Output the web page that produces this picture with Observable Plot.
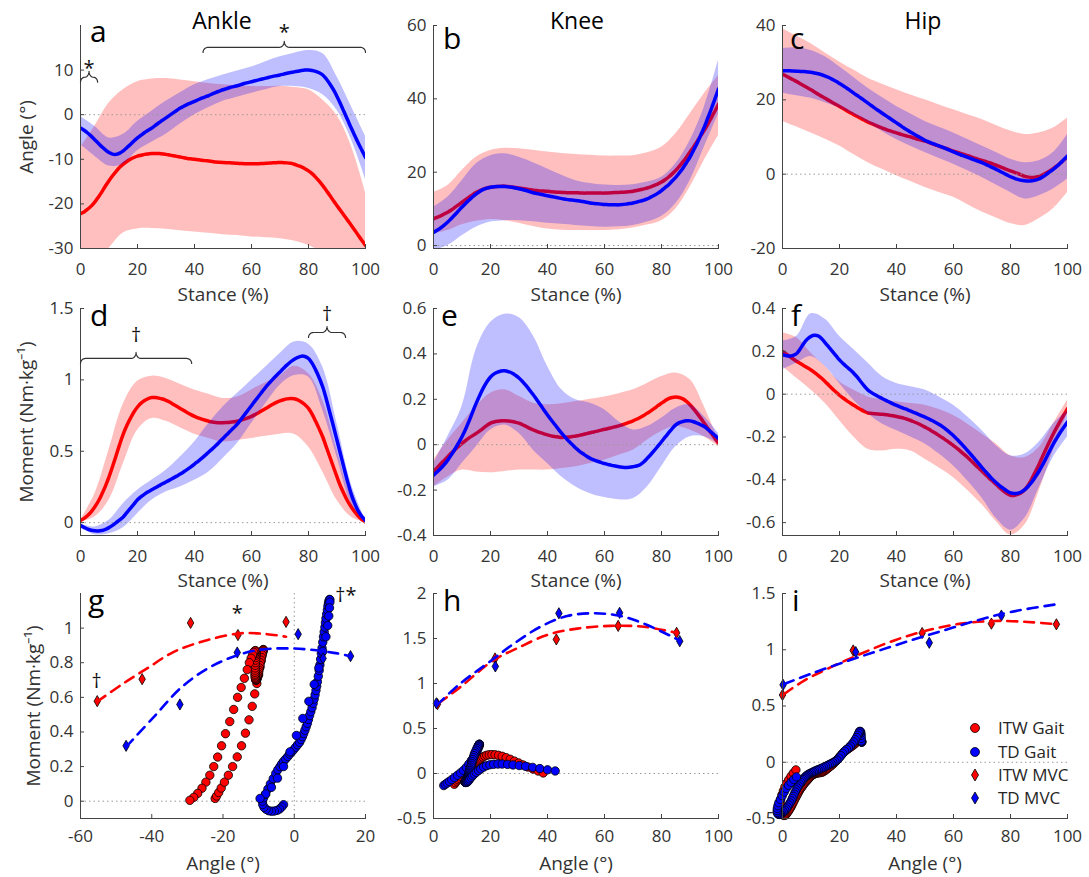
<!DOCTYPE html>
<html><head><meta charset="utf-8">
<script src="https://cdn.jsdelivr.net/npm/d3@7"></script>
<script src="https://cdn.jsdelivr.net/npm/@observablehq/plot@0.6"></script>
<style>
body{margin:0;background:#fff;}
#fig{position:relative;width:1089px;height:877px;font-family:"Open Sans",sans-serif;overflow:hidden;background:#fff;}
.txt{position:absolute;white-space:nowrap;line-height:1;}
</style></head><body><div id="fig"></div>
<script>
// ---------------- DATA ----------------
const stance = [0,1.25,2.5,3.75,5,6.25,7.5,8.75,10,11.25,12.5,13.75,15,16.25,17.5,18.75,20,21.25,22.5,23.75,25,26.25,27.5,28.75,30,31.25,32.5,33.75,35,36.25,37.5,38.75,40,41.25,42.5,43.75,45,46.25,47.5,48.75,50,51.25,52.5,53.75,55,56.25,57.5,58.75,60,61.25,62.5,63.75,65,66.25,67.5,68.75,70,71.25,72.5,73.75,75,76.25,77.5,78.75,80,81.25,82.5,83.75,85,86.25,87.5,88.75,90,91.25,92.5,93.75,95,96.25,97.5,98.75,100];
const stanceBand = [0,5,10,15,20,25,30,35,40,45,50,55,60,65,70,75,80,85,90,95,100];

// Ankle angle (deg)
const ankleAngleITW = [-22.2,-21.8,-21.2,-20.5,-19.6,-18.5,-17.3,-16.0,-14.8,-13.7,-12.7,-11.8,-11.1,-10.5,-10,-9.6,-9.3,-9.1,-8.9,-8.8,-8.7,-8.7,-8.7,-8.8,-8.9,-9.05,-9.2,-9.35,-9.5,-9.65,-9.8,-9.9,-10,-10.1,-10.2,-10.3,-10.4,-10.5,-10.6,-10.65,-10.7,-10.75,-10.8,-10.85,-10.9,-10.95,-11,-11,-11,-11,-11,-10.95,-10.9,-10.85,-10.8,-10.75,-10.7,-10.75,-10.8,-10.9,-11.1,-11.4,-11.7,-12.1,-12.6,-13.2,-14,-14.9,-15.9,-17,-18.1,-19.3,-20.4,-21.5,-22.6,-23.7,-24.8,-25.9,-27.1,-28.2,-29.3];
const ankleAngleTD = [-3,-3.5,-4.1,-4.8,-5.6,-6.4,-7.2,-7.9,-8.5,-8.85,-8.9,-8.6,-8.1,-7.4,-6.7,-5.9,-5.2,-4.6,-4,-3.5,-3,-2.4,-1.8,-1.25,-0.7,-0.15,0.4,0.95,1.5,1.9,2.3,2.65,3,3.35,3.7,4,4.3,4.65,5,5.3,5.6,5.85,6.1,6.3,6.5,6.75,7,7.2,7.4,7.6,7.8,8,8.2,8.4,8.6,8.75,8.9,9.1,9.3,9.45,9.6,9.75,9.9,10,10,9.9,9.7,9.4,8.9,8.0,6.9,5.6,4.1,2.4,0.6,-1.2,-3,-4.7,-6.4,-8,-9.6];
const ankleAngleITWHi = [-7.4,-2.6,2.6,5.6,7.4,8,8.1,7.8,7.4,7,6.7,6.5,6.3,6.3,6.4,6.1,5.6,3.3,-0.2,-7,-17.4];
const ankleAngleITWLo = [-38,-34,-30,-26.5,-25.6,-25.5,-25.7,-26,-26.3,-26.6,-26.9,-27.1,-27.4,-27.6,-27.8,-28.3,-29.3,-31,-34,-38,-42];
const ankleAngleTDHi = [-0.4,-2.6,-5.2,-4.4,-1.5,0.8,3,4.9,6.7,7.9,8.9,9.8,10.7,11.9,13,13.8,14.4,13.7,8.5,1.9,-4.8];
const ankleAngleTDLo = [-6.7,-9.3,-11.5,-11.1,-8.1,-6.2,-4.4,-2.1,0,1.6,3,3.9,4.8,5.6,6.3,6.3,5.9,4.5,1,-5.5,-14.4];

// Knee angle (deg)
const kneeAngleITW = [7.3,7.7,8.1,8.6,9.1,9.7,10.4,11.1,11.8,12.5,13.2,13.9,14.5,15,15.4,15.7,15.9,16,16.1,16.2,16.2,16.1,16,15.85,15.7,15.55,15.4,15.25,15.1,15,14.9,14.85,14.8,14.7,14.6,14.55,14.5,14.45,14.4,14.4,14.4,14.35,14.3,14.3,14.3,14.3,14.3,14.3,14.3,14.35,14.4,14.45,14.5,14.55,14.6,14.7,14.8,15,15.2,15.45,15.7,16,16.4,16.8,17.3,17.95,18.7,19.55,20.5,21.6,22.8,24.1,25.5,26.9,28.4,29.9,31.4,33.1,34.9,36.7,38.5];
const kneeAngleTD = [3.6,4.15,4.8,5.55,6.4,7.4,8.4,9.45,10.5,11.5,12.4,13.3,14.1,14.75,15.3,15.65,15.9,16.05,16.1,16.1,16.1,16,15.9,15.7,15.5,15.25,15,14.7,14.4,14.2,14,13.8,13.6,13.4,13.2,13,12.8,12.65,12.5,12.4,12.3,12.15,12,11.8,11.6,11.5,11.4,11.3,11.2,11.15,11.1,11.1,11.1,11.2,11.3,11.45,11.6,11.85,12.1,12.4,12.7,13.2,13.7,14.3,15,15.8,16.6,17.6,18.6,19.8,21.1,22.6,24.1,26,27.9,30.1,32.3,34.8,37.3,40,42.7];
const kneeAngleITWHi = [14.5,16.4,20.5,24.1,25.9,26.5,26.4,26,25.5,25.1,24.8,24.6,24.4,24.4,24.5,25.3,26.8,30.5,35.9,41.4,46.4];
const kneeAngleITWLo = [3.2,4.1,5.7,6.6,7.1,6.8,6.1,5.2,4.5,4.2,4.1,4.1,4.1,4.3,4.8,5.6,6.8,10,15.9,23.2,30];
const kneeAngleTDHi = [10.5,13.2,17.7,22.3,24.5,25,24.1,22.6,20.9,19.2,17.7,16.9,16.5,16.4,16.6,17.3,18.6,22.3,28.6,37.7,50.5];
const kneeAngleTDLo = [-1.4,0,2.7,5,6.4,6.8,6.8,6.5,6.1,5.8,5.5,5.2,5,5.1,5.5,6.4,7.9,11.4,17.7,26.8,35.9];

// Hip angle (deg)
const hipAngleITW = [26.9,26.4,25.9,25.4,24.9,24.35,23.8,23.25,22.7,22.1,21.5,20.95,20.4,19.85,19.3,18.75,18.2,17.65,17.1,16.55,16,15.5,15,14.5,14,13.6,13.2,12.8,12.4,12.05,11.7,11.4,11.1,10.8,10.5,10.25,10,9.7,9.4,9.15,8.9,8.55,8.2,7.85,7.5,7.2,6.9,6.55,6.2,5.9,5.6,5.3,5,4.65,4.3,4,3.7,3.4,3.1,2.75,2.4,2,1.6,1.25,0.9,0.55,0.2,-0.2,-0.6,-0.8,-0.9,-0.8,-0.6,-0.2,0.3,0.85,1.5,2.2,3,3.8,4.7];
const hipAngleTD = [27.8,27.8,27.8,27.75,27.7,27.65,27.6,27.5,27.4,27.2,27,26.75,26.4,26,25.5,25,24.4,23.8,23.2,22.5,21.8,21.15,20.5,19.8,19.1,18.4,17.7,17.05,16.4,15.75,15.1,14.45,13.8,13.15,12.5,11.9,11.3,10.75,10.2,9.65,9.1,8.7,8.3,7.95,7.6,7.2,6.8,6.4,6,5.6,5.2,4.85,4.5,4.15,3.8,3.45,3.1,2.65,2.2,1.75,1.3,0.8,0.3,-0.2,-0.7,-1.05,-1.4,-1.65,-1.8,-1.85,-1.8,-1.6,-1.3,-0.75,-0.1,0.6,1.3,2.1,3,3.95,4.9];
const hipAngleITWHi = [39.1,37.1,35.1,32.6,30.2,28,25.8,24.2,22.7,21.3,20,18.6,17.3,16,14.7,13.1,11.6,10.7,11.1,12.4,15.1];
const hipAngleITWLo = [14.2,12.7,11.1,9.4,7.6,5.3,3.1,1.3,-0.4,-2,-3.6,-4.9,-6.2,-8.2,-10.2,-11.8,-13.3,-13.8,-12,-9.3,-4.9];
const hipAngleTDHi = [33.8,34,33.3,31.6,28.9,26,23.1,20.6,18.2,16.2,14.2,12.6,11.1,9.3,7.6,5.8,4,3.1,3.6,5.8,10.7];
const hipAngleTDLo = [21.8,21.1,20.4,19.2,17.8,15.9,13.8,11.5,9.3,7.5,5.8,4.2,2.7,0.9,-0.9,-2.9,-4.9,-6.7,-5.8,-4,-1.3];

// Ankle moment (Nm/kg)
const ankleMomentITW = [0.016,0.03,0.05,0.076,0.11,0.15,0.2,0.256,0.32,0.393,0.47,0.548,0.62,0.68,0.73,0.775,0.81,0.837,0.855,0.868,0.876,0.876,0.872,0.866,0.857,0.845,0.83,0.815,0.8,0.785,0.77,0.757,0.745,0.734,0.725,0.717,0.71,0.705,0.702,0.7,0.7,0.701,0.703,0.706,0.71,0.717,0.725,0.734,0.745,0.757,0.77,0.785,0.8,0.815,0.83,0.843,0.853,0.861,0.867,0.87,0.868,0.86,0.845,0.826,0.8,0.76,0.71,0.657,0.6,0.53,0.46,0.39,0.32,0.255,0.2,0.15,0.11,0.075,0.045,0.022,0.005];
const ankleMomentTD = [-0.02,-0.033,-0.045,-0.053,-0.057,-0.058,-0.055,-0.047,-0.035,-0.019,0,0.019,0.04,0.07,0.1,0.13,0.16,0.182,0.2,0.216,0.23,0.244,0.258,0.272,0.285,0.298,0.312,0.326,0.34,0.356,0.373,0.391,0.41,0.43,0.45,0.472,0.495,0.517,0.54,0.565,0.59,0.615,0.64,0.664,0.69,0.722,0.755,0.787,0.82,0.853,0.885,0.918,0.95,0.978,1.005,1.031,1.056,1.081,1.105,1.127,1.145,1.158,1.166,1.164,1.15,1.117,1.07,1.015,0.95,0.865,0.77,0.675,0.577,0.478,0.38,0.285,0.2,0.133,0.08,0.042,0.016];
const ankleMomentITWHi = [0.016,0.2,0.51,0.83,0.99,1.026,1.01,0.97,0.93,0.9,0.87,0.88,0.93,0.98,1.03,1.096,1.044,0.857,0.51,0.18,0.005];
const ankleMomentITWLo = [0.005,0.04,0.157,0.41,0.647,0.73,0.71,0.665,0.62,0.59,0.565,0.575,0.59,0.605,0.62,0.62,0.53,0.355,0.157,0.04,0];
const ankleMomentTDHi = [-0.007,-0.03,0.016,0.133,0.227,0.297,0.367,0.46,0.565,0.694,0.81,0.904,0.998,1.09,1.185,1.266,1.25,1.09,0.694,0.27,0.016];
const ankleMomentTDLo = [-0.035,-0.084,-0.077,-0.035,0.063,0.157,0.215,0.25,0.297,0.355,0.45,0.554,0.694,0.834,0.963,1.03,1.021,0.787,0.46,0.133,0];

// Knee moment (Nm/kg)
const kneeMomentITW = [-0.12,-0.102,-0.085,-0.069,-0.053,-0.037,-0.022,-0.008,0.006,0.018,0.03,0.04,0.05,0.061,0.073,0.085,0.095,0.1,0.103,0.105,0.105,0.104,0.102,0.099,0.095,0.088,0.08,0.072,0.065,0.059,0.053,0.048,0.043,0.039,0.036,0.034,0.032,0.033,0.034,0.036,0.038,0.041,0.045,0.049,0.053,0.056,0.06,0.064,0.068,0.071,0.075,0.079,0.083,0.088,0.093,0.099,0.105,0.112,0.12,0.129,0.139,0.149,0.16,0.172,0.183,0.194,0.203,0.208,0.21,0.208,0.202,0.191,0.176,0.158,0.138,0.117,0.095,0.072,0.05,0.028,0.006];
const kneeMomentTD = [-0.134,-0.12,-0.105,-0.088,-0.068,-0.045,-0.02,0.007,0.035,0.068,0.105,0.145,0.183,0.218,0.25,0.277,0.298,0.312,0.32,0.325,0.326,0.322,0.316,0.306,0.294,0.278,0.26,0.24,0.22,0.198,0.176,0.153,0.131,0.11,0.09,0.07,0.05,0.032,0.015,0,-0.016,-0.029,-0.04,-0.051,-0.06,-0.067,-0.073,-0.078,-0.083,-0.087,-0.091,-0.094,-0.097,-0.099,-0.1,-0.099,-0.097,-0.094,-0.088,-0.076,-0.06,-0.043,-0.025,-0.006,0.013,0.033,0.052,0.071,0.087,0.097,0.102,0.105,0.105,0.101,0.095,0.088,0.08,0.068,0.055,0.041,0.028];
const kneeMomentITWHi = [-0.068,0.02,0.095,0.168,0.227,0.242,0.213,0.183,0.176,0.18,0.19,0.2,0.21,0.225,0.242,0.27,0.3,0.316,0.287,0.168,0.02];
const kneeMomentITWLo = [-0.186,-0.142,-0.112,-0.12,-0.124,-0.118,-0.112,-0.112,-0.112,-0.105,-0.097,-0.083,-0.068,-0.046,-0.024,0.02,0.058,0.08,0.065,0.035,-0.009];
const kneeMomentTDHi = [-0.083,0.035,0.168,0.42,0.538,0.575,0.56,0.48,0.346,0.242,0.198,0.183,0.154,0.102,0.065,0.08,0.117,0.161,0.176,0.124,0.05];
const kneeMomentTDLo = [-0.186,-0.157,-0.083,-0.009,0.065,0.087,0.05,-0.024,-0.083,-0.142,-0.186,-0.216,-0.233,-0.242,-0.238,-0.186,-0.097,-0.009,0.035,0.035,0.003];

// Hip moment (Nm/kg)
const hipMomentITW = [0.2,0.188,0.176,0.164,0.153,0.143,0.133,0.123,0.113,0.101,0.088,0.074,0.058,0.042,0.025,0.01,-0.005,-0.018,-0.03,-0.041,-0.052,-0.062,-0.072,-0.081,-0.088,-0.09,-0.092,-0.093,-0.094,-0.096,-0.098,-0.101,-0.104,-0.108,-0.112,-0.117,-0.123,-0.13,-0.137,-0.145,-0.154,-0.163,-0.173,-0.183,-0.194,-0.205,-0.216,-0.228,-0.24,-0.253,-0.267,-0.281,-0.296,-0.312,-0.328,-0.344,-0.36,-0.376,-0.392,-0.407,-0.422,-0.438,-0.452,-0.464,-0.472,-0.473,-0.468,-0.46,-0.446,-0.424,-0.395,-0.362,-0.328,-0.291,-0.255,-0.22,-0.186,-0.155,-0.125,-0.096,-0.068];
const hipMomentTD = [0.184,0.18,0.178,0.181,0.19,0.212,0.238,0.258,0.27,0.275,0.272,0.259,0.24,0.22,0.2,0.18,0.16,0.143,0.128,0.114,0.098,0.079,0.058,0.037,0.019,0.007,-0.003,-0.012,-0.02,-0.029,-0.037,-0.045,-0.052,-0.059,-0.066,-0.072,-0.079,-0.086,-0.093,-0.1,-0.107,-0.115,-0.123,-0.132,-0.142,-0.153,-0.166,-0.18,-0.194,-0.211,-0.228,-0.246,-0.265,-0.284,-0.303,-0.323,-0.343,-0.362,-0.38,-0.398,-0.414,-0.428,-0.44,-0.452,-0.461,-0.464,-0.463,-0.457,-0.446,-0.43,-0.41,-0.386,-0.36,-0.33,-0.298,-0.265,-0.233,-0.205,-0.178,-0.153,-0.13];
const hipMomentITWHi = [0.287,0.263,0.192,0.129,0.058,0.019,-0.013,-0.026,-0.036,-0.044,-0.052,-0.072,-0.1,-0.14,-0.186,-0.233,-0.288,-0.296,-0.249,-0.139,-0.028];
const hipMomentITWLo = [0.129,0.074,0.019,-0.044,-0.123,-0.2,-0.257,-0.265,-0.257,-0.265,-0.304,-0.345,-0.39,-0.45,-0.516,-0.595,-0.658,-0.611,-0.454,-0.265,-0.091];
const hipMomentTDHi = [0.247,0.27,0.375,0.35,0.27,0.208,0.145,0.082,0.05,0.035,0.019,-0.013,-0.052,-0.107,-0.17,-0.241,-0.288,-0.28,-0.225,-0.139,-0.076];
const hipMomentTDLo = [0.113,0.145,0.176,0.129,0.05,-0.028,-0.091,-0.139,-0.17,-0.2,-0.233,-0.28,-0.335,-0.406,-0.485,-0.58,-0.635,-0.58,-0.438,-0.296,-0.2];

// MVC diamonds (angle, moment) and fitted curves
const ankleMvcITWAngle = [-55.3,-42.7,-29.1,-15.8,-2.3];
const ankleMvcITWMoment = [0.578,0.705,1.03,0.96,1.036];
const ankleMvcTDAngle = [-47.2,-32.1,-16,1.1,8.1,15.8];
const ankleMvcTDMoment = [0.32,0.559,0.859,0.965,0.825,0.838];
const ankleFitITWAngle = [-55.3,-48,-41.3,-33.8,-24.5,-15.1,-7.6,-2.3];
const ankleFitITWMoment = [0.575,0.68,0.767,0.863,0.93,0.97,0.965,0.95];
const ankleFitTDAngle = [-47.2,-39.4,-31.5,-22.6,-11.4,-0.1,11.1,15.8];
const ankleFitTDMoment = [0.314,0.487,0.661,0.786,0.869,0.882,0.857,0.838];

const kneeMvcITWAngle = [1.4,21.6,43.1,64.8,85.3];
const kneeMvcITWMoment = [0.77,1.278,1.49,1.64,1.563];
const kneeMvcTDAngle = [1.0,21.7,44,65.3,86.4];
const kneeMvcTDMoment = [0.78,1.19,1.78,1.785,1.47];
const kneeFitITWAngle = [1.8,9.4,21.1,29.3,39.9,50.4,62.1,73.9,85.6];
const kneeFitITWMoment = [0.78,0.96,1.26,1.39,1.54,1.61,1.64,1.63,1.56];
const kneeFitTDAngle = [1.2,9.4,18.8,28.1,37.5,46.9,56.3,65.7,75,86.2];
const kneeFitTDMoment = [0.76,1.0,1.22,1.44,1.63,1.75,1.78,1.75,1.65,1.48];

const hipMvcITWAngle = [0,24.8,49,73.3,96.1];
const hipMvcITWMoment = [0.598,0.994,1.149,1.232,1.226];
const hipMvcTDAngle = [0.2,25.7,51.5,76.8];
const hipMvcTDMoment = [0.688,0.979,1.062,1.304];
const hipFitITWAngle = [0.6,7.6,17,27.5,39.2,50.9,62.6,74.3,86,96.5];
const hipFitITWMoment = [0.607,0.726,0.845,0.964,1.083,1.173,1.232,1.256,1.247,1.226];
const hipFitTDAngle = [0.6,9.9,21.6,33.3,45,56.7,68.4,80.1,97.7];
const hipFitTDMoment = [0.696,0.786,0.89,0.988,1.083,1.173,1.262,1.336,1.41];

// Significance annotations
const ankleAngleBraces = [{x1:0,x2:6,y:8.4},{x1:43,x2:100,y:15.1}];
const ankleAngleMarks = [{x:3,y:10.4,t:"*"},{x:71.5,y:18.4,t:"*"}];
const ankleMomentBraces = [{x1:0,x2:39,y:1.15},{x1:80,x2:93,y:1.332}];
const ankleMomentMarks = [{x:19.5,y:1.31,t:"†"},{x:86.5,y:1.46,t:"†"}];
const ankleRelMarks = [{x:-55.5,y:0.69,t:"†"},{x:-16,y:1.085,t:"*"},{x:14.5,y:1.19,t:"†*"}];

// Ticks and labels
const stanceTicks = [0,20,40,60,80,100];
const angleTicksG = [-60,-40,-20,0,20];
const angleTicks = [0,20,40,60,80,100];
const yTicksA = [-30,-20,-10,0,10], yTicksB = [0,20,40,60], yTicksC = [-20,0,20,40];
const yTicksD = [0,0.5,1,1.5], yTicksE = [-0.4,-0.2,0,0.2,0.4,0.6], yTicksF = [-0.6,-0.4,-0.2,0,0.2,0.4];
const yTicksG = [0,0.2,0.4,0.6,0.8,1], yTicksH = [-0.5,0,0.5,1,1.5,2], yTicksI = [-0.5,0,0.5,1,1.5];
const joints = ["Ankle","Knee","Hip"];
const letters = ["a","b","c","d","e","f","g","h","i"];
const legendLabels = ["ITW Gait","TD Gait","ITW MVC","TD MVC"];

// ---------------- LAYOUT ----------------
const fig = document.getElementById("fig");
const COLS = [{L:80,R:365},{L:433,R:718},{L:782,R:1067}];
const ROWS = [{T:25,B:248},{T:308,B:535},{T:593,B:818}];
const ML = 70, MR = 20, MT = 12, MB = 64;
const RED = "#ff0000", BLUE = "#0000ff";
const fmt = d => String(d);

function makePanel(col, row, o) {
  const c = COLS[col], r = ROWS[row];
  const svg = Plot.plot({
    width: c.R - c.L + ML + MR, height: r.B - r.T + MT + MB,
    marginLeft: ML, marginRight: MR, marginTop: MT, marginBottom: MB,
    style: {background: "transparent", fontFamily: "'Open Sans', sans-serif", fontSize: "17px", color: "#333", overflow: "visible"},
    x: {domain: o.xDomain}, y: {domain: o.yDomain},
    marks: [
      ...o.marks,
      Plot.frame({anchor: "left", stroke: "#444"}),
      Plot.frame({anchor: "bottom", stroke: "#444"}),
      Plot.axisX(o.xTicks, {tickSize: -4, tickPadding: o.xTickPadding ?? 18, tickFormat: fmt, fontSize: 17, stroke: "#444",
        label: o.xLabel, labelAnchor: "center", labelOffset: o.xLabelOffset, labelArrow: "none"}),
      Plot.axisY(o.yTicks, {tickSize: -4, tickPadding: 11, tickFormat: fmt, fontSize: 17, stroke: "#444",
        label: o.yLabel ?? null, labelAnchor: "center", labelOffset: o.yLabelOffset, labelArrow: "none"}),
      ...(o.top || [])
    ]
  });
  // axis titles slightly larger than tick labels
  svg.querySelectorAll('[aria-label="x-axis label"], [aria-label="y-axis label"]').forEach(g => g.setAttribute("font-size", 19));
  const wrap = document.createElement("div");
  wrap.style.cssText = `position:absolute;left:${c.L - ML}px;top:${r.T - MT}px;`;
  wrap.appendChild(svg);
  fig.appendChild(wrap);
}

const zeroY = Plot.ruleY([0], {stroke: "#999", strokeDasharray: "1.5,3", strokeWidth: 1});

function stanceMarks(itwM, itwLo, itwHi, tdM, tdLo, tdHi) {
  const band = (lo, hi) => stanceBand.map((s, i) => ({s, lo: lo[i], hi: hi[i]}));
  const mean = v => stance.map((s, i) => ({s, v: v[i]}));
  return [
    Plot.areaY(band(itwLo, itwHi), {x: "s", y1: "lo", y2: "hi", fill: RED, fillOpacity: 0.25, curve: "catmull-rom", clip: true}),
    Plot.line(mean(itwM), {x: "s", y: "v", stroke: RED, strokeWidth: 3.5, curve: "catmull-rom", clip: true}),
    Plot.areaY(band(tdLo, tdHi), {x: "s", y1: "lo", y2: "hi", fill: BLUE, fillOpacity: 0.25, curve: "catmull-rom", clip: true}),
    zeroY,
    Plot.line(mean(tdM), {x: "s", y: "v", stroke: BLUE, strokeWidth: 3.5, curve: "catmull-rom", clip: true})
  ];
}

function scatterMarks(itwA, itwM, tdA, tdM, mIA, mIM, mTA, mTM, fIA, fIM, fTA, fTM) {
  const pairs = (a, m) => a.map((x, i) => ({x, y: m[i]}));
  return [
    Plot.dot(pairs(itwA, itwM), {x: "x", y: "y", r: 4.2, fill: RED, stroke: "#000", strokeWidth: 0.8}),
    Plot.dot(pairs(tdA, tdM), {x: "x", y: "y", r: 4.2, fill: BLUE, stroke: "#000", strokeWidth: 0.8}),
    Plot.dot(pairs(mIA, mIM), {x: "x", y: "y", symbol: "diamond", r: 3.4, fill: RED, stroke: "#000", strokeWidth: 0.8}),
    Plot.dot(pairs(mTA, mTM), {x: "x", y: "y", symbol: "diamond", r: 3.4, fill: BLUE, stroke: "#000", strokeWidth: 0.8}),
    Plot.line(pairs(fIA, fIM), {x: "x", y: "y", stroke: RED, strokeWidth: 2.6, strokeDasharray: "10,7", curve: "catmull-rom"}),
    Plot.line(pairs(fTA, fTM), {x: "x", y: "y", stroke: BLUE, strokeWidth: 2.6, strokeDasharray: "10,7", curve: "catmull-rom"})
  ];
}

function braceMarks(list, xDom, yDom, col, row) {
  const c = COLS[col], r = ROWS[row];
  const xpp = (xDom[1] - xDom[0]) / (c.R - c.L), ypp = (yDom[1] - yDom[0]) / (r.B - r.T);
  return list.map(b => {
    const rpx = Math.min(5, (b.x2 - b.x1) / xpp / 4);
    const rx = rpx * xpp, ry = 5 * ypp, rt = 6 * ypp;
    const xm = (b.x1 + b.x2) / 2, y = b.y, N = 8, pts = [];
    for (let k = 0; k <= N; k++) { const t = k / N * Math.PI / 2; pts.push([b.x1 + rx - rx * Math.cos(t), y - ry + ry * Math.sin(t)]); }
    for (let k = 0; k <= N; k++) { const t = k / N * Math.PI / 2; pts.push([xm - rx + rx * Math.sin(t), y + rt - rt * Math.cos(t)]); }
    for (let k = 0; k <= N; k++) { const t = k / N * Math.PI / 2; pts.push([xm + rx - rx * Math.cos(t), y + rt - rt * Math.sin(t)]); }
    for (let k = 0; k <= N; k++) { const t = k / N * Math.PI / 2; pts.push([b.x2 - rx + rx * Math.sin(t), y - ry + ry * Math.cos(t)]); }
    return Plot.line(pts, {x: d => d[0], y: d => d[1], stroke: "#333", strokeWidth: 1.2});
  });
}
const symText = list => Plot.text(list, {x: "x", y: "y", text: "t", fontSize: 20, fill: "#111"});

const momentLabel = "Moment (Nm·kg\u207B\u00B9)";

// Row 1: angles
makePanel(0, 0, {xDomain: [0, 100], yDomain: [-30, 20], xTicks: stanceTicks, yTicks: yTicksA,
  xLabel: "Stance (%)", xLabelOffset: 52, yLabel: "Angle (°)", yLabelOffset: 61,
  marks: stanceMarks(ankleAngleITW, ankleAngleITWLo, ankleAngleITWHi, ankleAngleTD, ankleAngleTDLo, ankleAngleTDHi),
  top: [...braceMarks(ankleAngleBraces, [0, 100], [-30, 20], 0, 0), symText(ankleAngleMarks)]});
makePanel(1, 0, {xDomain: [0, 100], yDomain: [-0.8, 60], xTicks: stanceTicks, yTicks: yTicksB,
  xLabel: "Stance (%)", xLabelOffset: 52,
  marks: stanceMarks(kneeAngleITW, kneeAngleITWLo, kneeAngleITWHi, kneeAngleTD, kneeAngleTDLo, kneeAngleTDHi)});
makePanel(2, 0, {xDomain: [0, 100], yDomain: [-20, 40], xTicks: stanceTicks, yTicks: yTicksC,
  xLabel: "Stance (%)", xLabelOffset: 52,
  marks: stanceMarks(hipAngleITW, hipAngleITWLo, hipAngleITWHi, hipAngleTD, hipAngleTDLo, hipAngleTDHi)});

// Row 2: moments
makePanel(0, 1, {xDomain: [0, 100], yDomain: [-0.09, 1.5], xTicks: stanceTicks, yTicks: yTicksD,
  xLabel: "Stance (%)", xLabelOffset: 51, yLabel: momentLabel, yLabelOffset: 61,
  marks: stanceMarks(ankleMomentITW, ankleMomentITWLo, ankleMomentITWHi, ankleMomentTD, ankleMomentTDLo, ankleMomentTDHi),
  top: [...braceMarks(ankleMomentBraces, [0, 100], [-0.09, 1.5], 0, 1), symText(ankleMomentMarks)]});
makePanel(1, 1, {xDomain: [0, 100], yDomain: [-0.4, 0.6], xTicks: stanceTicks, yTicks: yTicksE,
  xLabel: "Stance (%)", xLabelOffset: 51,
  marks: stanceMarks(kneeMomentITW, kneeMomentITWLo, kneeMomentITWHi, kneeMomentTD, kneeMomentTDLo, kneeMomentTDHi)});
makePanel(2, 1, {xDomain: [0, 100], yDomain: [-0.66, 0.4], xTicks: stanceTicks, yTicks: yTicksF,
  xLabel: "Stance (%)", xLabelOffset: 51,
  marks: stanceMarks(hipMomentITW, hipMomentITWLo, hipMomentITWHi, hipMomentTD, hipMomentTDLo, hipMomentTDHi)});

// Row 3: moment vs angle
makePanel(0, 2, {xDomain: [-60, 20], yDomain: [-0.1, 1.2], xTicks: angleTicksG, yTicks: yTicksG,
  xLabel: "Angle (°)", xLabelOffset: 51, xTickPadding: 15, yLabel: momentLabel, yLabelOffset: 54,
  marks: [zeroY, Plot.ruleX([0], {stroke: "#999", strokeDasharray: "1.5,3"}),
    ...scatterMarks(ankleAngleITW, ankleMomentITW, ankleAngleTD, ankleMomentTD,
      ankleMvcITWAngle, ankleMvcITWMoment, ankleMvcTDAngle, ankleMvcTDMoment,
      ankleFitITWAngle, ankleFitITWMoment, ankleFitTDAngle, ankleFitTDMoment)],
  top: [symText(ankleRelMarks)]});
makePanel(1, 2, {xDomain: [0, 100], yDomain: [-0.5, 2], xTicks: angleTicks, yTicks: yTicksH,
  xLabel: "Angle (°)", xLabelOffset: 51, xTickPadding: 15,
  marks: [zeroY, ...scatterMarks(kneeAngleITW, kneeMomentITW, kneeAngleTD, kneeMomentTD,
      kneeMvcITWAngle, kneeMvcITWMoment, kneeMvcTDAngle, kneeMvcTDMoment,
      kneeFitITWAngle, kneeFitITWMoment, kneeFitTDAngle, kneeFitTDMoment)]});
makePanel(2, 2, {xDomain: [0, 100], yDomain: [-0.5, 1.5], xTicks: angleTicks, yTicks: yTicksI,
  xLabel: "Angle (°)", xLabelOffset: 51, xTickPadding: 15,
  marks: [zeroY, ...scatterMarks(hipAngleITW, hipMomentITW, hipAngleTD, hipMomentTD,
      hipMvcITWAngle, hipMvcITWMoment, hipMvcTDAngle, hipMvcTDMoment,
      hipFitITWAngle, hipFitITWMoment, hipFitTDAngle, hipFitTDMoment)]});

// ---------------- TEXT: titles, panel letters, legend ----------------
function addText(str, left, baseline, size, extra = "") {
  const d = document.createElement("div");
  d.className = "txt";
  d.textContent = str;
  d.style.cssText += `left:${left}px;top:${baseline - 0.888 * size}px;font-size:${size}px;color:#000;${extra}`;
  fig.appendChild(d);
  return d;
}
const titleCenters = [222, 577, 923];
joints.forEach((j, i) => addText(j, titleCenters[i], 29, 23, "transform:translateX(-50%);"));
const letterPos = [[90,43],[443,50],[790,50],[90,327],[441,327],[791,327],[88,612],[443,612],[792,612]];
letters.forEach((l, i) => addText(l, letterPos[i][0], letterPos[i][1], 30));

const legendColors = [RED, BLUE, RED, BLUE];
const legendY = [728, 752, 775, 798];
legendLabels.forEach((lab, i) => {
  const ns = "http://www.w3.org/2000/svg";
  const mk = document.createElementNS(ns, "svg");
  mk.setAttribute("width", 16); mk.setAttribute("height", 16);
  mk.style.cssText = `position:absolute;left:${975 - 8}px;top:${legendY[i] - 8}px;`;
  let shape;
  if (i < 2) {
    shape = document.createElementNS(ns, "circle");
    shape.setAttribute("cx", 8); shape.setAttribute("cy", 8); shape.setAttribute("r", 4.5);
  } else {
    shape = document.createElementNS(ns, "path");
    shape.setAttribute("d", "M8,2L11.5,8L8,14L4.5,8Z");
  }
  shape.setAttribute("fill", legendColors[i]); shape.setAttribute("stroke", "#000"); shape.setAttribute("stroke-width", 0.8);
  mk.appendChild(shape);
  fig.appendChild(mk);
  addText(lab, 998, legendY[i] + 6, 17, "color:#262626;");
});
</script>
</body></html>
